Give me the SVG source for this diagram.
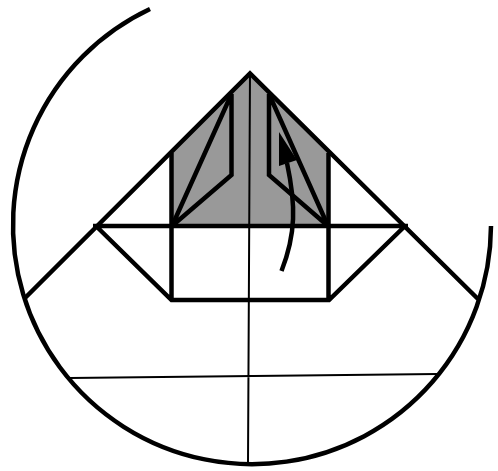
<svg xmlns="http://www.w3.org/2000/svg" width="498" height="471" viewBox="0 0 498 471">
<style>
.k{fill:none;stroke:#000;stroke-width:4.500}
.t{fill:none;stroke:#000;stroke-width:2}
</style>
<rect width="498" height="471" fill="#fff"/>
<polygon points="170,155 250,72 330,155 330,227 170,227" fill="#999"/>
<path class="k" d="M150,9A239,239 0 1 0 491,226"/>
<path class="t" d="M250,72L248,463M70,378L437,374"/>
<path class="k" d="M25.500,297.500L250,73.500L478,299"/>
<path class="k" d="M93,226H408M96,226L171.500,300H329L405,226M171.500,153V300M328.500,153V300"/>
<path class="k" d="M172,226L231.500,94V175L172,226M269,94V175L328,226L269,94"/>
<path class="k" d="M281.500,271C296,234 296,205 287,163"/>
<polygon points="279,132 279,166 297,160"/>
</svg>
